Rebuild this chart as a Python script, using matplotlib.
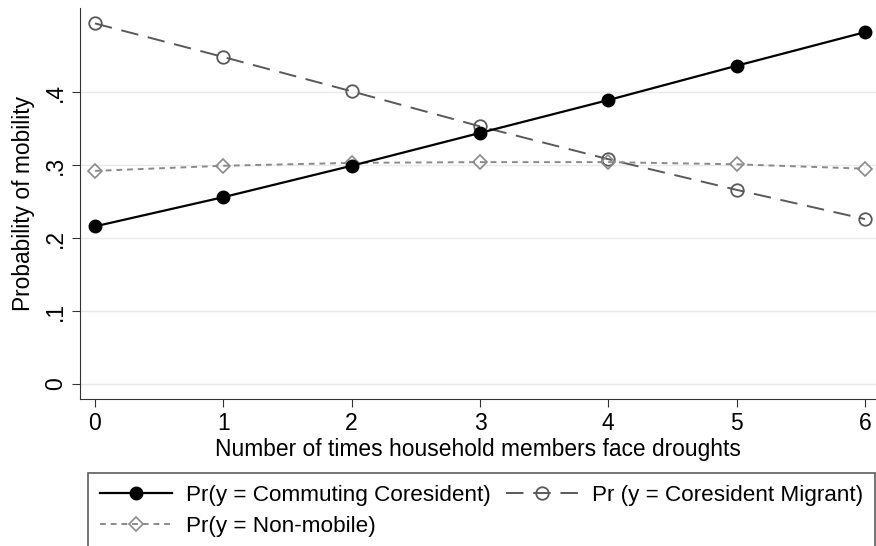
"""Predicted probabilities of mobility by drought exposure."""

import matplotlib
matplotlib.use("Agg")
import matplotlib.pyplot as plt

# data
droughts = [0, 1, 2, 3, 4, 5, 6]
commuting = [0.216, 0.256, 0.299, 0.344, 0.389, 0.436, 0.482]
migrant = [0.494, 0.448, 0.401, 0.353, 0.308, 0.266, 0.226]
non_mobile = [0.292, 0.299, 0.303, 0.304, 0.304, 0.301, 0.295]
y_ticks = [0, 0.1, 0.2, 0.3, 0.4]
y_tick_labels = ["0", ".1", ".2", ".3", ".4"]

plt.rcParams["font.family"] = ["Liberation Sans", "DejaVu Sans"]

fig = plt.figure(figsize=(8.76, 5.46), dpi=100)
ax = fig.add_axes([0.0913, 0.2692, 0.9087, 0.716])

ax.plot(droughts, commuting, color="black", lw=1.6, marker="o", ms=9,
        label="Pr(y = Commuting Coresident)", zorder=4)
ax.plot(droughts, migrant, color="#595959", lw=1.4, dashes=(9, 5), marker="o",
        ms=9, mfc="none", mew=1.3, label="Pr (y = Coresident Migrant)", zorder=3)
ax.plot(droughts, non_mobile, color="#8a8a8a", lw=1.4, dashes=(3, 2.5), marker="D",
        ms=7, mfc="none", mew=1.2, label="Pr(y = Non-mobile)", zorder=3)

ax.set_xlim(-0.117, 6.086)
ax.set_ylim(-0.0205, 0.515)
ax.set_xticks(droughts)
ax.set_yticks(y_ticks)
ax.set_yticklabels(y_tick_labels, rotation=90, va="center")
ax.tick_params(axis="both", labelsize=16.5, length=6, color="#333333", direction="out")
ax.yaxis.grid(True, color="#eaeaea", lw=1)
ax.set_axisbelow(True)
for side in ["top", "right"]:
    ax.spines[side].set_visible(False)
for side in ["left", "bottom"]:
    ax.spines[side].set_color("#333333")

ax.set_xlabel("Number of times household members face droughts", fontsize=16.4, labelpad=2)
ax.set_ylabel("Probability of mobility", fontsize=16.4, labelpad=6)

# legend: two columns, second row holds the non-mobile entry
h, l = ax.get_legend_handles_labels()
order = [0, 2, 1]
leg = fig.legend([h[i] for i in order], [l[i] for i in order],
                 loc="upper left", bbox_to_anchor=(0.1005, 0.1337), ncol=2,
                 fontsize=16.2, frameon=True, fancybox=False, edgecolor="#333333",
                 handlelength=3.2, columnspacing=0.7, labelspacing=0.42,
                 borderpad=0.55, handletextpad=0.6, borderaxespad=0)
leg.get_frame().set_linewidth(1.2)

fig.savefig("out.png", dpi=100)
